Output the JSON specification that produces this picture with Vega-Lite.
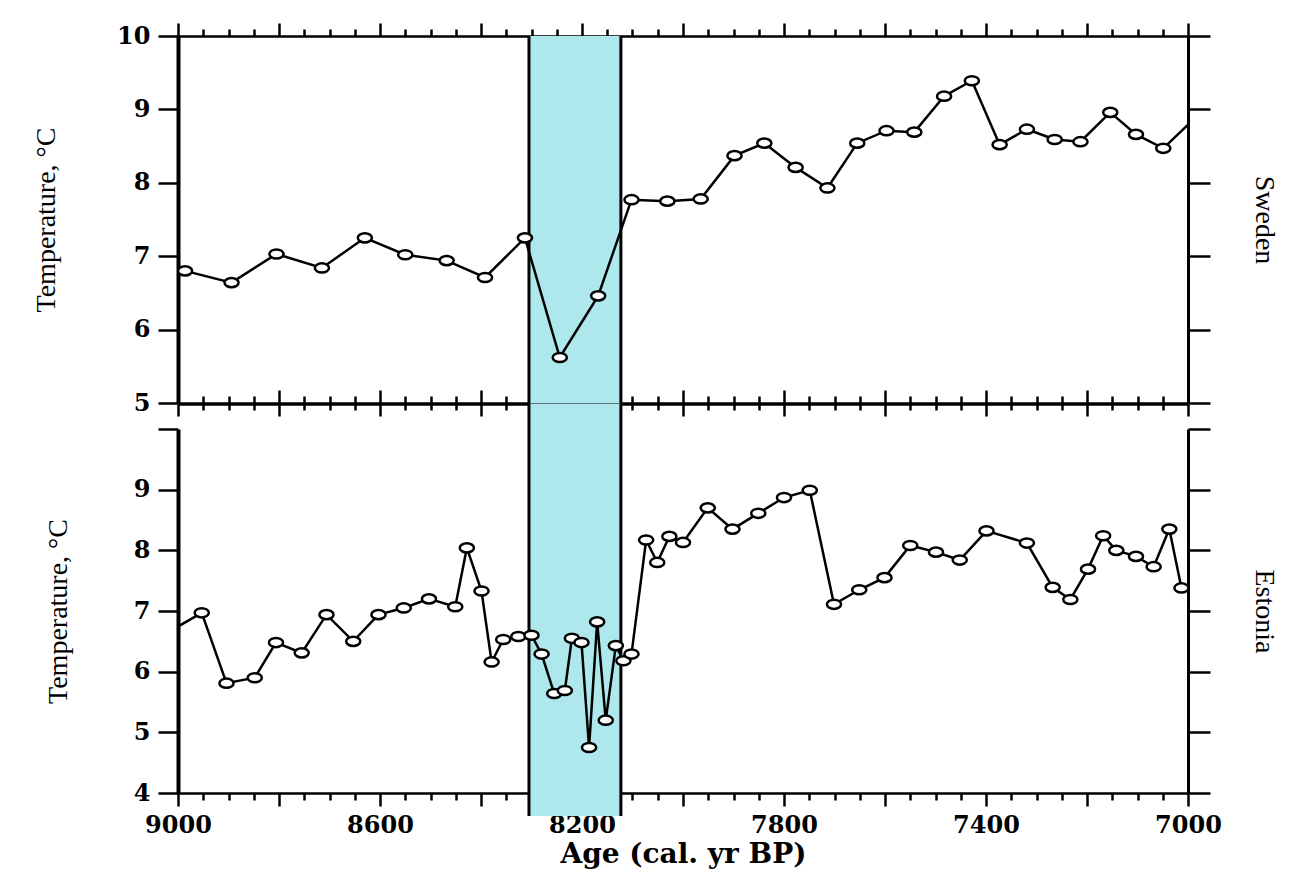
{
  "$schema": "https://vega.github.io/schema/vega-lite/v6.json",
  "background": "white",
  "padding": {"left": 32, "top": 21, "right": 8, "bottom": 1},
  "bounds": "flush",
  "spacing": 26,
  "config": {
    "view": {"stroke": null},
    "axis": {
      "domainColor": "black", "tickColor": "black", "labelColor": "black", "titleColor": "black",
      "labelFont": "DejaVu Serif", "labelFontWeight": "bold", "labelFontSize": 24,
      "titleFont": "Liberation Serif", "titleFontWeight": "normal", "titleFontSize": 28,
      "grid": false, "zindex": 1, "tickWidth": 2.5, "domainWidth": 2.5,
      "labelOverlap": false, "labelFlush": false
    },
    "axisX": {"tickCount": 100}
  },
  "datasets": {
    "band": [{"start": 8305, "end": 8123}],
    "sweden": [
      {"Age": 8986, "Temp": 6.80}, {"Age": 8894, "Temp": 6.64}, {"Age": 8805, "Temp": 7.03},
      {"Age": 8715, "Temp": 6.84}, {"Age": 8630, "Temp": 7.25}, {"Age": 8550, "Temp": 7.02},
      {"Age": 8468, "Temp": 6.94}, {"Age": 8392, "Temp": 6.71}, {"Age": 8313, "Temp": 7.25},
      {"Age": 8244, "Temp": 5.62}, {"Age": 8168, "Temp": 6.46}, {"Age": 8102, "Temp": 7.77},
      {"Age": 8031, "Temp": 7.75}, {"Age": 7965, "Temp": 7.78}, {"Age": 7898, "Temp": 8.37},
      {"Age": 7839, "Temp": 8.54}, {"Age": 7777, "Temp": 8.21}, {"Age": 7714, "Temp": 7.93},
      {"Age": 7655, "Temp": 8.54}, {"Age": 7597, "Temp": 8.71}, {"Age": 7542, "Temp": 8.69},
      {"Age": 7483, "Temp": 9.18}, {"Age": 7428, "Temp": 9.39}, {"Age": 7373, "Temp": 8.52},
      {"Age": 7319, "Temp": 8.73}, {"Age": 7264, "Temp": 8.59}, {"Age": 7213, "Temp": 8.56},
      {"Age": 7154, "Temp": 8.96}, {"Age": 7103, "Temp": 8.66}, {"Age": 7049, "Temp": 8.47},
      {"Age": 6980, "Temp": 8.92}
    ],
    "estonia": [
      {"Age": 9030, "Temp": 6.60}, {"Age": 8953, "Temp": 6.97}, {"Age": 8904, "Temp": 5.81},
      {"Age": 8848, "Temp": 5.90}, {"Age": 8806, "Temp": 6.48}, {"Age": 8755, "Temp": 6.31},
      {"Age": 8706, "Temp": 6.94}, {"Age": 8653, "Temp": 6.50}, {"Age": 8603, "Temp": 6.94},
      {"Age": 8553, "Temp": 7.05}, {"Age": 8503, "Temp": 7.20}, {"Age": 8451, "Temp": 7.07},
      {"Age": 8428, "Temp": 8.04}, {"Age": 8399, "Temp": 7.33}, {"Age": 8379, "Temp": 6.16},
      {"Age": 8356, "Temp": 6.53}, {"Age": 8326, "Temp": 6.58}, {"Age": 8300, "Temp": 6.60},
      {"Age": 8280, "Temp": 6.29}, {"Age": 8255, "Temp": 5.64}, {"Age": 8234, "Temp": 5.69},
      {"Age": 8220, "Temp": 6.55}, {"Age": 8201, "Temp": 6.48}, {"Age": 8186, "Temp": 4.75},
      {"Age": 8170, "Temp": 6.82}, {"Age": 8153, "Temp": 5.20}, {"Age": 8133, "Temp": 6.43},
      {"Age": 8118, "Temp": 6.18}, {"Age": 8102, "Temp": 6.29}, {"Age": 8073, "Temp": 8.17},
      {"Age": 8051, "Temp": 7.80}, {"Age": 8027, "Temp": 8.23}, {"Age": 8000, "Temp": 8.13},
      {"Age": 7951, "Temp": 8.70}, {"Age": 7902, "Temp": 8.35}, {"Age": 7851, "Temp": 8.61},
      {"Age": 7800, "Temp": 8.87}, {"Age": 7749, "Temp": 8.99}, {"Age": 7701, "Temp": 7.11},
      {"Age": 7651, "Temp": 7.35}, {"Age": 7601, "Temp": 7.55}, {"Age": 7550, "Temp": 8.08},
      {"Age": 7499, "Temp": 7.97}, {"Age": 7452, "Temp": 7.84}, {"Age": 7399, "Temp": 8.32},
      {"Age": 7319, "Temp": 8.12}, {"Age": 7268, "Temp": 7.39}, {"Age": 7233, "Temp": 7.19},
      {"Age": 7198, "Temp": 7.69}, {"Age": 7168, "Temp": 8.24}, {"Age": 7142, "Temp": 8.00},
      {"Age": 7103, "Temp": 7.90}, {"Age": 7068, "Temp": 7.73}, {"Age": 7037, "Temp": 8.35},
      {"Age": 7013, "Temp": 7.38}
    ]
  },
  "vconcat": [
    {
      "width": 1010,
      "height": 367,
      "resolve": {"axis": {"x": "independent", "y": "independent"}},
      "layer": [
        {
          "data": {"name": "band"},
          "mark": {"type": "rect", "color": "#aee8ec"},
          "encoding": {
            "x": {"field": "start", "type": "quantitative",
                  "scale": {"domain": [7000, 9000], "reverse": true, "nice": false, "zero": false},
                  "axis": {"orient": "top", "title": null, "labels": false,
                           "values": [7000,7050,7100,7150,7200,7250,7300,7350,7400,7450,7500,7550,7600,7650,7700,7750,7800,7850,7900,7950,8000,8050,8100,8150,8200,8250,8300,8350,8400,8450,8500,8550,8600,8650,8700,8750,8800,8850,8900,8950,9000],
                           "tickSize": {"condition": {"test": "datum.value % 200 === 0", "value": 13}, "value": 7}}},
            "x2": {"field": "end"}
          }
        },
        {
          "data": {"name": "band"},
          "mark": {"type": "rule", "color": "black", "strokeWidth": 3},
          "encoding": {
            "x": {"field": "start", "type": "quantitative",
                  "scale": {"domain": [7000, 9000], "reverse": true, "nice": false, "zero": false}, "axis": null}
          }
        },
        {
          "data": {"name": "band"},
          "mark": {"type": "rule", "color": "black", "strokeWidth": 3},
          "encoding": {
            "x": {"field": "end", "type": "quantitative",
                  "scale": {"domain": [7000, 9000], "reverse": true, "nice": false, "zero": false}, "axis": null}
          }
        },
        {
          "data": {"name": "sweden"},
          "mark": {"type": "line", "color": "black", "strokeWidth": 2.5, "clip": true},
          "encoding": {
            "x": {"field": "Age", "type": "quantitative",
                  "scale": {"domain": [7000, 9000], "reverse": true, "nice": false, "zero": false},
                  "axis": {"orient": "bottom", "title": null, "labels": false,
                           "values": [7000,7050,7100,7150,7200,7250,7300,7350,7400,7450,7500,7550,7600,7650,7700,7750,7800,7850,7900,7950,8000,8050,8100,8150,8200,8250,8300,8350,8400,8450,8500,8550,8600,8650,8700,8750,8800,8850,8900,8950,9000],
                           "tickSize": {"condition": {"test": "datum.value % 200 === 0", "value": -13}, "value": -7}}},
            "y": {"field": "Temp", "type": "quantitative",
                  "scale": {"domain": [5, 10], "nice": false, "zero": false},
                  "axis": {"orient": "left", "values": [5,6,7,8,9,10], "format": "d", "tickSize": 20, "labelPadding": 8,
                           "domainWidth": 4, "title": "Temperature, °C", "titlePadding": 56}}
          }
        },
        {
          "data": {"name": "sweden"},
          "mark": {"type": "point", "shape": "M-1,0A1,0.65 0 1,1 1,0A1,0.65 0 1,1 -1,0Z", "size": 200,
                   "filled": true, "fill": "white", "stroke": "black", "strokeWidth": 2.5, "opacity": 1, "clip": true},
          "encoding": {
            "x": {"field": "Age", "type": "quantitative",
                  "scale": {"domain": [7000, 9000], "reverse": true, "nice": false, "zero": false}, "axis": null},
            "y": {"field": "Temp", "type": "quantitative",
                  "scale": {"domain": [5, 10], "nice": false, "zero": false},
                  "axis": {"orient": "right", "values": [5,6,7,8,9,10], "tickSize": 22, "labels": false,
                           "domainWidth": 3, "title": "Sweden", "titleAngle": 90, "titlePadding": 38}}
          }
        }
      ]
    },
    {
      "width": 1010,
      "height": 364,
      "resolve": {"axis": {"x": "independent", "y": "independent"}},
      "layer": [
        {
          "data": {"name": "band"},
          "mark": {"type": "rect", "color": "#aee8ec"},
          "encoding": {
            "x": {"field": "start", "type": "quantitative",
                  "scale": {"domain": [7000, 9000], "reverse": true, "nice": false, "zero": false},
                  "axis": {"orient": "top", "offset": 25, "title": null, "labels": false,
                           "values": [7000,7050,7100,7150,7200,7250,7300,7350,7400,7450,7500,7550,7600,7650,7700,7750,7800,7850,7900,7950,8000,8050,8100,8150,8200,8250,8300,8350,8400,8450,8500,8550,8600,8650,8700,8750,8800,8850,8900,8950,9000],
                           "tickSize": {"condition": {"test": "datum.value % 200 === 0", "value": -12}, "value": -6}}},
            "x2": {"field": "end"},
            "y": {"datum": 10.42, "type": "quantitative", "scale": {"domain": [4, 10], "nice": false, "zero": false}, "axis": null},
            "y2": {"datum": 3.62}
          }
        },
        {
          "data": {"name": "band"},
          "mark": {"type": "rule", "color": "black", "strokeWidth": 3},
          "encoding": {
            "x": {"field": "start", "type": "quantitative",
                  "scale": {"domain": [7000, 9000], "reverse": true, "nice": false, "zero": false}, "axis": null},
            "y": {"datum": 10.42, "type": "quantitative", "scale": {"domain": [4, 10], "nice": false, "zero": false}, "axis": null},
            "y2": {"datum": 3.62}
          }
        },
        {
          "data": {"name": "band"},
          "mark": {"type": "rule", "color": "black", "strokeWidth": 3},
          "encoding": {
            "x": {"field": "end", "type": "quantitative",
                  "scale": {"domain": [7000, 9000], "reverse": true, "nice": false, "zero": false}, "axis": null},
            "y": {"datum": 10.42, "type": "quantitative", "scale": {"domain": [4, 10], "nice": false, "zero": false}, "axis": null},
            "y2": {"datum": 3.62}
          }
        },
        {
          "data": {"name": "estonia"},
          "mark": {"type": "line", "color": "black", "strokeWidth": 2.5, "clip": true},
          "encoding": {
            "x": {"field": "Age", "type": "quantitative",
                  "scale": {"domain": [7000, 9000], "reverse": true, "nice": false, "zero": false},
                  "axis": {"orient": "bottom", "format": "d",
                           "values": [7000,7050,7100,7150,7200,7250,7300,7350,7400,7450,7500,7550,7600,7650,7700,7750,7800,7850,7900,7950,8000,8050,8100,8150,8200,8250,8300,8350,8400,8450,8500,8550,8600,8650,8700,8750,8800,8850,8900,8950,9000],
                           "labelExpr": "datum.value % 400 === 200 ? datum.label : ''",
                           "tickSize": {"condition": {"test": "datum.value % 200 === 0", "value": 13}, "value": 7},
                           "labelPadding": 7,
                           "encode": {"ticks": {"update": {"y": {"signal": "datum.value % 200 === 0 ? -13 : -7"}}}},
                           "title": "Age (cal. yr BP)", "titleFont": "DejaVu Serif", "titleFontWeight": "bold",
                           "titleFontSize": 28, "titlePadding": 3}},
            "y": {"field": "Temp", "type": "quantitative",
                  "scale": {"domain": [4, 10], "nice": false, "zero": false},
                  "axis": {"orient": "left", "values": [4,5,6,7,8,9,10], "format": "d", "tickSize": 20, "labelPadding": 8,
                           "labelExpr": "datum.value === 10 ? '' : datum.label",
                           "domainWidth": 4, "title": "Temperature, °C", "titlePadding": 61}}
          }
        },
        {
          "data": {"name": "estonia"},
          "mark": {"type": "point", "shape": "M-1,0A1,0.65 0 1,1 1,0A1,0.65 0 1,1 -1,0Z", "size": 200,
                   "filled": true, "fill": "white", "stroke": "black", "strokeWidth": 2.5, "opacity": 1, "clip": true},
          "encoding": {
            "x": {"field": "Age", "type": "quantitative",
                  "scale": {"domain": [7000, 9000], "reverse": true, "nice": false, "zero": false}, "axis": null},
            "y": {"field": "Temp", "type": "quantitative",
                  "scale": {"domain": [4, 10], "nice": false, "zero": false},
                  "axis": {"orient": "right", "values": [4,5,6,7,8,9,10], "tickSize": 22, "labels": false,
                           "domainWidth": 3, "title": "Estonia", "titleAngle": 90, "titlePadding": 38}}
          }
        }
      ]
    }
  ]
}
